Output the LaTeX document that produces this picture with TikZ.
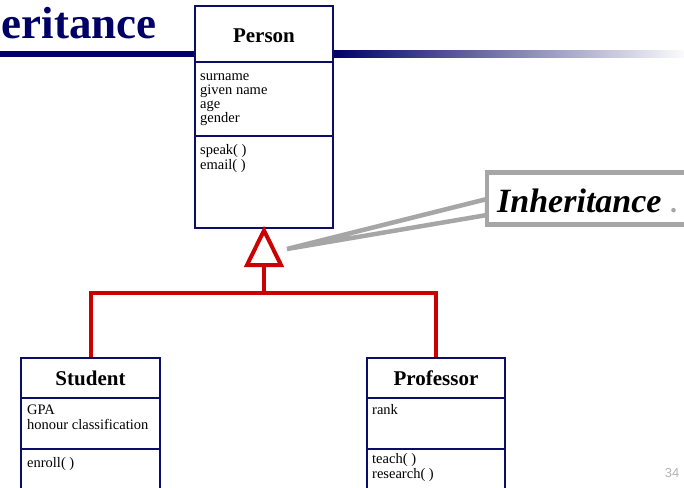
\documentclass[tikz,border=0pt]{standalone}
\usepackage{fontspec}
\setmainfont{Liberation Serif}
\setsansfont{Liberation Sans}
\definecolor{umlnavy}{HTML}{0C0C6A}
\definecolor{titlenavy}{HTML}{000066}
\definecolor{inhred}{HTML}{CC0000}
\definecolor{callgray}{HTML}{A6A6A6}
\definecolor{pagegray}{HTML}{B4B4B4}
\begin{document}
\begin{tikzpicture}[x=1pt,y=-1pt,
  classbox/.style={draw=umlnavy, line width=2pt, fill=white, inner sep=0pt},
  divider/.style={draw=umlnavy, line width=2pt},
  classname/.style={inner sep=0pt, font=\fontsize{21}{24}\selectfont\bfseries},
  members/.style={inner sep=0pt, anchor=north west, align=left,
    font=\fontsize{14.5}{14}\selectfont},
  inhline/.style={draw=inhred, line width=4pt},
  callline/.style={draw=callgray, line width=4.5pt}]
\clip (0,0) rectangle (684,487);
\useasboundingbox (0,0) rectangle (684,487);

% slide title and its rule
\node[anchor=base east, inner sep=0pt, text=titlenavy,
  font=\fontsize{45}{50}\selectfont\bfseries] (title) at (157,38) {eritance};
\fill[titlenavy] (0,51) rectangle (196,57);
\shade[left color=titlenavy, right color=white] (332,51) rectangle (690,57);

% Person class
\node[classbox, minimum width=138, minimum height=222] (person) at (264,117) {};
\draw[divider] (person.west |- 0,62) -- (person.east |- 0,62);
\draw[divider] (person.west |- 0,136) -- (person.east |- 0,136);
\node[classname] (personname) at (264,35.5) {Person};
\node[members] (personattr) at (200,70) {\strut surname\\given name\\age\\gender};
\node[members] (personops) at (200,144) {\strut speak( )\\email( )};

% Student class
\node[classbox, minimum width=139, minimum height=150] (student) at (90.5,433) {};
\draw[divider] (student.west |- 0,398) -- (student.east |- 0,398);
\draw[divider] (student.west |- 0,449) -- (student.east |- 0,449);
\node[classname] (studentname) at (90.5,378) {Student};
\node[members] (studentattr) at (27,404) {\strut GPA\\honour classification};
\node[members] (studentops) at (27,457) {\strut enroll( )};

% Professor class
\node[classbox, minimum width=138, minimum height=150] (professor) at (436,433) {};
\draw[divider] (professor.west |- 0,398) -- (professor.east |- 0,398);
\draw[divider] (professor.west |- 0,449) -- (professor.east |- 0,449);
\node[classname] (professorname) at (436,378) {Professor};
\node[members] (professorattr) at (372,404) {\strut rank};
\node[members] (professorops) at (372,453) {\strut teach( )\\research( )};

% generalisation: hollow triangle and branching tree
\coordinate (tribase) at (264,265);
\coordinate (bus) at (264,293);
\draw[inhline, fill=white, line join=miter]
  (person.south) ++(0,1.5) -- (247,265) -- (281,265) -- cycle;
\draw[inhline] (tribase) -- (bus);
\draw[inhline, line join=miter]
  (student.north) -- (student.north |- bus) -- (professor.north |- bus) -- (professor.north);

% callout naming the relationship
\coordinate (calltip) at (287,249);
\draw[callline, fill=white, line join=miter] (487,199) -- (calltip) -- (487,215) -- cycle;
\node[callline, fill=white, minimum width=220, minimum height=52, inner sep=0pt]
  (callout) at (597,198.5) {};
\node[anchor=base west, inner sep=0pt,
  font=\fontsize{34}{36}\selectfont\bfseries\itshape] (calltext) at (497,212) {Inheritance};
\node[anchor=base west, inner sep=0pt, text=callgray,
  font=\fontsize{28}{30}\selectfont\bfseries] (calldot) at (670,212) {.};

% page number
\node[inner sep=0pt, text=pagegray, font=\sffamily\fontsize{13}{14}\selectfont]
  (pagenum) at (672,473) {34};
\end{tikzpicture}
\end{document}
